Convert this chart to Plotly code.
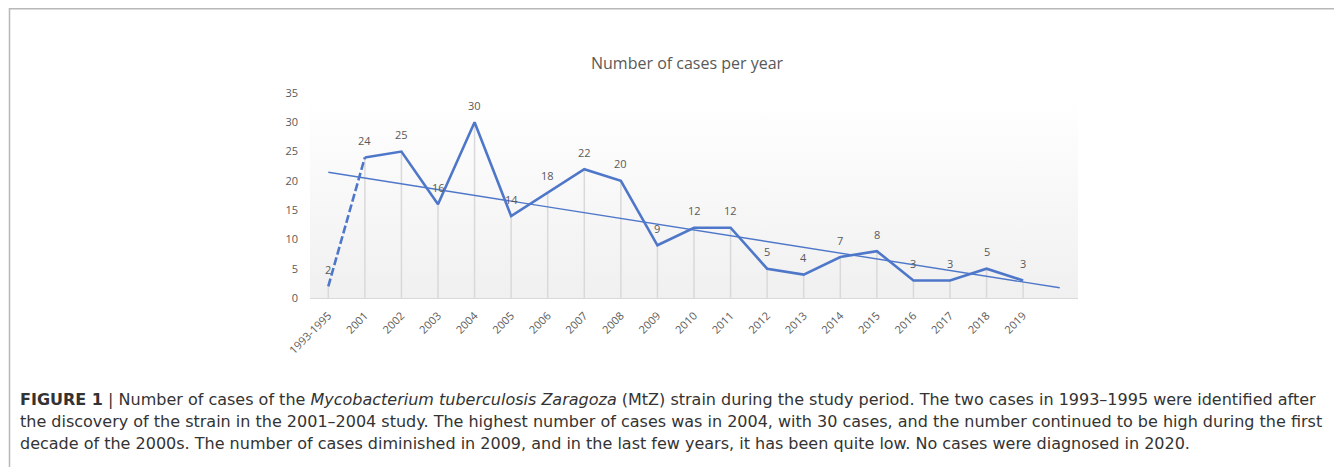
import numpy as np
import plotly.graph_objects as go

# ---- data ----
categories = ["1993-1995", "2001", "2002", "2003", "2004", "2005", "2006", "2007", "2008", "2009",
              "2010", "2011", "2012", "2013", "2014", "2015", "2016", "2017", "2018", "2019"]
cases = [2, 24, 25, 16, 30, 14, 18, 22, 20, 9, 12, 12, 5, 4, 7, 8, 3, 3, 5, 3]
title_text = "Number of cases per year"
caption_lines = [
    "<b>FIGURE 1</b> | Number of cases of the <i>Mycobacterium tuberculosis Zaragoza</i> (MtZ) strain during the study period. The two cases in 1993–1995 were identified after",
    "the discovery of the strain in the 2001–2004 study. The highest number of cases was in 2004, with 30 cases, and the number continued to be high during the first",
    "decade of the 2000s. The number of cases diminished in 2009, and in the last few years, it has been quite low. No cases were diagnosed in 2020.",
]

# ---- layout geometry (figure pixels; page has an 8px body margin) ----
OFF = 8
W, H = 1342 - OFF, 467 - OFF
L, R, T, B = 310 - OFF, 1078 - OFF, 93 - OFF, 298 - OFF
PW, PH = R - L, B - T

def px_x(page_px):
    return (page_px - OFF - L) / PW

def px_y(page_py):
    return (B - (page_py - OFF)) / PH

blue = "#4F77C9"
grey_txt = "#595959"
chart_font = "Open Sans"

idx = list(range(len(categories)))
fig = go.Figure()

# plot-area gradient background
fig.add_trace(go.Scatter(
    x=[-0.5, 20.5, 20.5, -0.5, -0.5], y=[0, 0, 34, 34, 0],
    mode="lines", line=dict(width=0), fill="toself",
    fillgradient=dict(type="vertical", colorscale=[[0, "#f0f0f0"], [1, "#ffffff"]]),
    hoverinfo="skip", showlegend=False))

# drop lines
dx, dy = [], []
for i, v in zip(idx, cases):
    dx += [i, i, None]
    dy += [0, v, None]
fig.add_trace(go.Scatter(x=dx, y=dy, mode="lines", line=dict(color="#d9d9d9", width=1.5),
                         hoverinfo="skip", showlegend=False))

# linear trend (Excel-style, forecast forward 1 period)
xs = np.arange(1, len(cases) + 1)
m, c = np.polyfit(xs, cases, 1)
tx = [0, len(cases)]
ty = [m * 1 + c, m * (len(cases) + 1) + c]
fig.add_trace(go.Scatter(x=tx, y=ty, mode="lines", line=dict(color=blue, width=1.4),
                         hoverinfo="skip", showlegend=False))

# dashed first segment
fig.add_trace(go.Scatter(x=idx[:2], y=cases[:2], mode="lines",
                         line=dict(color=blue, width=2.6, dash="8px,3px"), showlegend=False))
# main line
fig.add_trace(go.Scatter(x=idx[1:], y=cases[1:], mode="lines",
                         line=dict(color=blue, width=2.6), showlegend=False))

annotations = []
for i, v in zip(idx, cases):
    annotations.append(dict(x=i, y=v, text=str(v), showarrow=False, yshift=17,
                            font=dict(family=chart_font, size=11, color=grey_txt)))

annotations.append(dict(xref="paper", yref="paper", x=px_x(687), y=px_y(63), text=title_text,
                        showarrow=False, xanchor="center", yanchor="middle",
                        font=dict(family=chart_font, size=16, color=grey_txt)))

for k, line in enumerate(caption_lines):
    annotations.append(dict(xref="paper", yref="paper", x=px_x(18), y=px_y(399 + 22 * k), text=line,
                            showarrow=False, xanchor="left", yanchor="middle",
                            font=dict(family="DejaVu Sans", size=16, color="#333333")))

shapes = [
    dict(type="line", xref="paper", yref="paper", x0=px_x(9), x1=px_x(1342), y0=px_y(8.5), y1=px_y(8.5),
         line=dict(color="#b8b8b8", width=2)),
    dict(type="line", xref="paper", yref="paper", x0=px_x(9.5), x1=px_x(9.5), y0=px_y(8), y1=px_y(467),
         line=dict(color="#b8b8b8", width=1.5)),
]

fig.update_layout(
    width=W, height=H,
    margin=dict(l=L, r=W - R, t=T, b=H - B, pad=0),
    paper_bgcolor="white", plot_bgcolor="white",
    annotations=annotations, shapes=shapes,
    showlegend=False,
    xaxis=dict(range=[-0.5, 20.5], tickvals=idx, ticktext=categories, tickangle=-45,
               showgrid=False, zeroline=False, showline=True, linecolor="#d9d9d9", linewidth=1,
               ticks="", ticklabelstandoff=6,
               tickfont=dict(family=chart_font, size=11, color=grey_txt)),
    yaxis=dict(range=[0, 35], tickvals=[0, 5, 10, 15, 20, 25, 30, 35], showgrid=False, zeroline=False,
               showline=False, ticks="", ticklabelstandoff=11,
               tickfont=dict(family=chart_font, size=11, color=grey_txt)),
)

fig.write_html("out.html")
